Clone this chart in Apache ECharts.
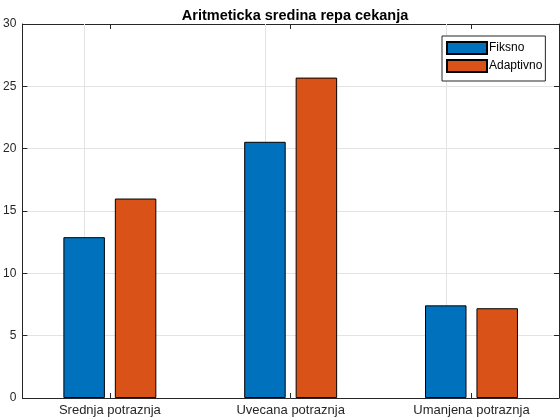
<!DOCTYPE html>
<html>
<head>
<meta charset="utf-8">
<script src="https://cdn.jsdelivr.net/npm/echarts@6/dist/echarts.min.js"></script>
<style>html,body{margin:0;padding:0;background:#fff}#c{width:560px;height:420px}</style>
</head>
<body>
<div id="c"></div>
<script>
const categories = ['Srednja potraznja', 'Uvecana potraznja', 'Umanjena potraznja'];
const categoryPos = [1, 2, 3];
const fiksno = [12.9, 20.55, 7.43];
const adaptivno = [16.0, 25.7, 7.2];
const yTicks = [0, 5, 10, 15, 20, 25, 30];

const axisColor = '#262626';
const gridColor = '#e3e3e3';
const font = 'Liberation Sans, Arial, Helvetica, sans-serif';

const pairs = vals => vals.map((v, i) => [categoryPos[i], v]);

const chart = echarts.init(document.getElementById('c'), null, {renderer: 'canvas'});
chart.setOption({
  animation: false,
  backgroundColor: '#fff',
  textStyle: {fontFamily: font},
  title: {
    text: 'Aritmeticka sredina repa cekanja',
    left: 290, top: 3, textAlign: 'center',
    textStyle: {fontSize: 14.5, fontWeight: 'bold', color: '#000', fontFamily: font}
  },
  legend: {
    left: 442, top: 36,
    orient: 'vertical',
    icon: 'rect',
    itemWidth: 40, itemHeight: 12, itemGap: 4,
    padding: [5, 3, 8, 4],
    borderColor: axisColor, borderWidth: 1,
    backgroundColor: '#fff',
    textStyle: {fontSize: 12, color: '#000', fontFamily: font, padding: [0, 0, 0, -3]},
    data: ['Fiksno', 'Adaptivno']
  },
  grid: {left: 20, right: 1, top: 24, bottom: 22, containLabel: false},
  xAxis: [{
    type: 'value', min: 0.516, max: 3.484, position: 'bottom',
    axisLine: {show: true, onZero: false, lineStyle: {color: axisColor, width: 1}},
    axisTick: {show: true, inside: true, length: 5, customValues: categoryPos, lineStyle: {color: axisColor}},
    axisLabel: {fontSize: 13, color: axisColor, margin: 6, fontFamily: font,
      customValues: categoryPos,
      formatter: v => categories[categoryPos.indexOf(v)] || ''},
    splitLine: {show: false}
  }, {
    type: 'value', min: 0.516, max: 3.484, position: 'top',
    axisLine: {show: true, onZero: false, lineStyle: {color: axisColor, width: 1}},
    axisTick: {show: true, inside: true, length: 5, customValues: categoryPos, lineStyle: {color: axisColor}},
    axisLabel: {show: false},
    splitLine: {show: false}
  }],
  yAxis: [{
    type: 'value', min: 0, max: 30, interval: 5, position: 'left',
    axisLine: {show: true, lineStyle: {color: axisColor, width: 1}},
    axisTick: {show: true, inside: true, length: 5, lineStyle: {color: axisColor}},
    axisLabel: {fontSize: 12, color: axisColor, margin: 6, fontFamily: font},
    splitLine: {show: true, lineStyle: {color: gridColor, width: 1}}
  }, {
    type: 'value', min: 0, max: 30, interval: 5, position: 'right',
    axisLine: {show: true, lineStyle: {color: axisColor, width: 1}},
    axisTick: {show: true, inside: true, length: 5, lineStyle: {color: axisColor}},
    axisLabel: {show: false},
    splitLine: {show: false}
  }],
  series: [{
    name: 'Fiksno', type: 'bar', data: pairs(fiksno),
    xAxisIndex: 0, yAxisIndex: 0,
    barWidth: 41.5, barGap: '24%',
    itemStyle: {color: '#0072BD', borderColor: '#000', borderWidth: 1},
    markLine: {
      silent: true, symbol: 'none', z: 1,
      label: {show: false},
      lineStyle: {color: gridColor, type: 'solid', width: 1},
      emphasis: {disabled: true},
      data: categoryPos.map(p => ({xAxis: p}))
    }
  }, {
    name: 'Adaptivno', type: 'bar', data: pairs(adaptivno),
    xAxisIndex: 0, yAxisIndex: 0,
    barWidth: 41.5, barGap: '24%',
    itemStyle: {color: '#D95319', borderColor: '#000', borderWidth: 1}
  }]
});
</script>
</body>
</html>
